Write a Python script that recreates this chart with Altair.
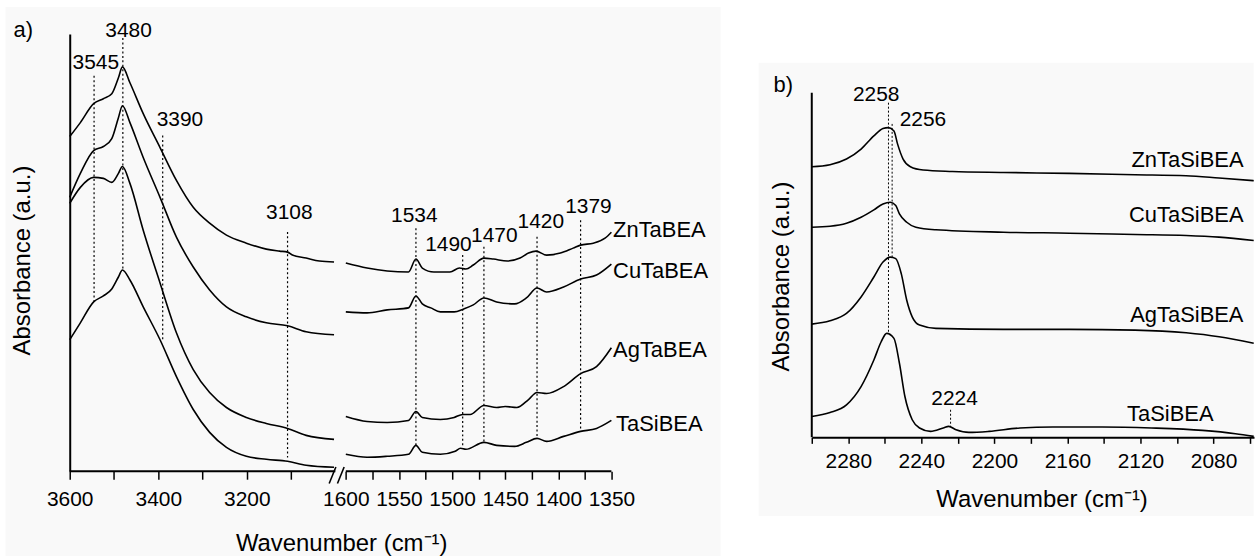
import altair as alt
import pandas as pd

FONT = "Liberation Sans"
BG = "#f9f9f9"

# ---------------- Panel a : data (wavenumber cm-1, absorbance a.u.) ----------------
a_samples = ["ZnTaBEA", "CuTaBEA", "AgTaBEA", "TaSiBEA"]

zn_oh_wn = [3600, 3576, 3546, 3524, 3505, 3490, 3481, 3464, 3434, 3396, 3359, 3321, 3284, 3246,
            3201, 3156, 3126, 3108, 3097, 3066, 3036, 3003]
zn_oh_abs = [3.36, 3.50, 3.69, 3.74, 3.79, 3.95, 4.06, 3.90, 3.59, 3.25, 2.92, 2.65, 2.49, 2.37,
             2.29, 2.23, 2.21, 2.20, 2.17, 2.14, 2.11, 2.10]

oh_wn = [3600, 3576, 3546, 3524, 3505, 3490, 3481, 3464, 3434, 3396, 3359, 3321, 3284, 3246,
         3201, 3156, 3108, 3066, 3003]
cu_oh_abs = [2.75, 2.99, 3.22, 3.26, 3.34, 3.55, 3.67, 3.50, 3.15, 2.75, 2.35, 2.05, 1.82, 1.65,
             1.55, 1.49, 1.46, 1.40, 1.37]
ag_oh_abs = [2.69, 2.85, 2.95, 2.94, 2.90, 2.99, 3.06, 2.89, 2.42, 1.89, 1.39, 1.02, 0.79, 0.64,
             0.54, 0.48, 0.43, 0.36, 0.32]
tasi_oh_abs = [1.32, 1.49, 1.70, 1.76, 1.83, 1.95, 2.02, 1.92, 1.65, 1.32, 0.95, 0.62, 0.39, 0.24,
               0.15, 0.12, 0.10, 0.06, 0.04]

zn_py_wn = [1600, 1580, 1561, 1541, 1534, 1528, 1517, 1502, 1493, 1487, 1480, 1470, 1461, 1448,
            1436, 1428, 1421, 1411, 1398, 1386, 1379, 1367, 1356, 1350]
zn_py_abs = [2.09, 2.04, 2.01, 2.00, 2.13, 2.04, 2.00, 2.00, 2.04, 2.03, 2.07, 2.14, 2.13, 2.11,
             2.14, 2.19, 2.21, 2.17, 2.19, 2.24, 2.27, 2.29, 2.34, 2.40]
cu_py_wn = [1600, 1580, 1561, 1541, 1534, 1528, 1520, 1511, 1498, 1489, 1480, 1470, 1458, 1441,
            1430, 1420, 1411, 1395, 1379, 1364, 1350]
cu_py_abs = [1.60, 1.59, 1.62, 1.64, 1.76, 1.68, 1.64, 1.60, 1.60, 1.63, 1.67, 1.74, 1.70, 1.68,
             1.74, 1.84, 1.80, 1.85, 1.93, 1.97, 2.08]
ag_py_wn = [1600, 1580, 1561, 1541, 1534, 1528, 1511, 1498, 1490, 1483, 1470, 1458, 1450, 1439,
            1428, 1420, 1411, 1395, 1379, 1364, 1350]
ag_py_abs = [0.55, 0.50, 0.49, 0.51, 0.60, 0.54, 0.52, 0.54, 0.57, 0.57, 0.66, 0.64, 0.65, 0.64,
             0.72, 0.79, 0.78, 0.85, 0.98, 1.05, 1.24]
tasi_py_wn = [1600, 1580, 1561, 1541, 1534, 1528, 1511, 1497, 1492, 1487, 1470, 1458, 1441, 1430,
              1420, 1411, 1395, 1379, 1364, 1350]
tasi_py_abs = [0.17, 0.14, 0.15, 0.17, 0.26, 0.19, 0.17, 0.20, 0.23, 0.22, 0.29, 0.26, 0.25, 0.29,
               0.33, 0.30, 0.35, 0.40, 0.43, 0.51]

# marked bands (panel a)
a_peaks = [3545, 3480, 3390, 3108, 1534, 1490, 1470, 1420, 1379]
a_peak_top = [3.97, 4.35, 3.37, 2.403, 2.44, 2.17, 2.253, 2.353, 2.52]
a_peak_bottom = [1.703, 2.02, 1.32, 0.137, 0.253, 0.24, 0.287, 0.33, 0.42]
a_label_wn = [3541, 3467, 3351, 3104, 1535.5, 1503.4, 1460.2, 1416.4, 1371.6]
a_label_y = [4.037, 4.36, 3.47, 2.537, 2.503, 2.213, 2.303, 2.437, 2.597]
a_name_wn = [1348.4, 1348.4, 1348.4, 1345.6]
a_name_y = [2.353, 1.937, 1.147, 0.403]

# axis ticks (panel a)
a_ticks = [3600, 3500, 3400, 3300, 3200, 3100,
           1600, 1575, 1550, 1525, 1500, 1475, 1450, 1425, 1400, 1375, 1350]
a_tick_labels = [3600, 3400, 3200, 1600, 1550, 1500, 1450, 1400, 1350]
a_segments_from = [3600, 1600]
a_segments_to = [3000, 1350]

# ---------------- Panel b : data ----------------
b_samples = ["ZnTaSiBEA", "CuTaSiBEA", "AgTaSiBEA", "TaSiBEA"]
zn_b_wn = [2300, 2290, 2281, 2273, 2266, 2261, 2258, 2255, 2253, 2250, 2246, 2239, 2223, 2195,
           2159, 2123, 2095, 2077, 2058]
zn_b_abs = [2.717, 2.737, 2.794, 2.894, 3.027, 3.10, 3.11, 3.077, 2.944, 2.794, 2.717, 2.684,
            2.67, 2.66, 2.65, 2.637, 2.627, 2.604, 2.577]
cu_b_wn = [2300, 2290, 2281, 2273, 2266, 2261, 2257, 2254, 2252, 2248, 2243, 2232, 2195, 2159,
           2123, 2095, 2077, 2058]
cu_b_abs = [2.11, 2.12, 2.15, 2.21, 2.284, 2.344, 2.36, 2.327, 2.244, 2.16, 2.11, 2.084, 2.06,
            2.05, 2.037, 2.027, 2.01, 1.977]
ag_b_wn = [2300, 2290, 2281, 2273, 2266, 2261, 2257, 2254, 2251, 2248, 2245, 2241, 2232, 2195,
           2159, 2123, 2095, 2077, 2058]
ag_b_abs = [1.137, 1.17, 1.244, 1.41, 1.61, 1.76, 1.81, 1.794, 1.644, 1.377, 1.21, 1.127, 1.094,
            1.084, 1.084, 1.077, 1.05, 1.01, 0.944]
tasi_b_wn = [2300, 2290, 2281, 2273, 2266, 2262, 2259, 2255, 2252, 2249, 2245, 2241, 2235, 2228,
             2225, 2221, 2214, 2203, 2186, 2168, 2141, 2114, 2086, 2068, 2058]
tasi_b_abs = [0.21, 0.25, 0.327, 0.51, 0.777, 0.96, 1.044, 0.994, 0.744, 0.41, 0.177, 0.094,
              0.06, 0.094, 0.11, 0.077, 0.05, 0.06, 0.094, 0.104, 0.104, 0.094, 0.07, 0.037, 0.01]

b_peaks = [2258, 2256, 2224]
b_peak_top = [3.36, 3.147, 0.277]
b_peak_bottom = [1.044, 1.81, 0.11]
b_label_wn = [2264.7, 2239.1, 2221.8]
b_label_y = [3.377, 3.127, 0.327]
b_name_wn = [2063.6, 2063.6, 2063.6, 2080]
b_name_y = [2.717, 2.16, 1.16, 0.16]
b_ticks = [2300, 2280, 2260, 2240, 2220, 2200, 2180, 2160, 2140, 2120, 2100, 2080, 2060]


# ---------------- helpers ----------------
def pos_expr(f):
    return (f"(datum.{f} > 2000 ? (3600 - datum.{f}) * 0.4445 "
            f": 277.2 + (1600 - datum.{f}) * 1.0665)")


def pos(w):
    return (3600 - w) * 0.4445 if w > 2000 else 277.2 + (1600 - w) * 1.0665


rows = []
for s, reg, wns, vals in [
    ("ZnTaBEA", "OH", zn_oh_wn, zn_oh_abs), ("CuTaBEA", "OH", oh_wn, cu_oh_abs),
    ("AgTaBEA", "OH", oh_wn, ag_oh_abs), ("TaSiBEA", "OH", oh_wn, tasi_oh_abs),
    ("ZnTaBEA", "Py", zn_py_wn, zn_py_abs), ("CuTaBEA", "Py", cu_py_wn, cu_py_abs),
    ("AgTaBEA", "Py", ag_py_wn, ag_py_abs), ("TaSiBEA", "Py", tasi_py_wn, tasi_py_abs)]:
    for w, v in zip(wns, vals):
        rows.append({"key": s + "-" + reg, "wn": w, "y": v})
df_a = pd.DataFrame(rows)

rows = []
for s, wns, vals in [("ZnTaSiBEA", zn_b_wn, zn_b_abs), ("CuTaSiBEA", cu_b_wn, cu_b_abs),
                     ("AgTaSiBEA", ag_b_wn, ag_b_abs), ("TaSiBEA", tasi_b_wn, tasi_b_abs)]:
    for w, v in zip(wns, vals):
        rows.append({"key": s, "wn": w, "y": v})
df_b = pd.DataFrame(rows)

# ---------------- Panel a ----------------
W_A, H_A = 544, 439
W_EXPR = ("(datum.value < 272 ? round(3600 - datum.value / 0.4445) "
          ": round(1600 - (datum.value - 277.2) / 1.0665))")
label_list = "[" + ",".join(str(v) for v in a_tick_labels) + "]"
a_label_expr = f"indexof({label_list}, {W_EXPR}) >= 0 ? '' + {W_EXPR} : ''"

xa = alt.X("p:Q", scale=alt.Scale(domain=[0, W_A], nice=False, zero=False),
           axis=alt.Axis(values=[pos(t) for t in a_ticks], labelExpr=a_label_expr, zindex=2,
                         domain=False, grid=False, tickSize=8, tickWidth=1.5, tickColor="black",
                         labelFont=FONT, labelFontSize=21, labelColor="black", labelPadding=9,
                         labelFlush=False, labelOverlap=False,
                         title="Wavenumber (cm⁻¹)", titleFont=FONT, titleFontSize=24,
                         titleFontWeight="normal", titleColor="black", titleX=272.5, titleY=79.7,
                         titleBaseline="alphabetic", titleAlign="center"))
ya = alt.Y("y:Q", scale=alt.Scale(domain=[0, 4.39], nice=False, zero=False),
           axis=alt.Axis(domain=True, domainColor="black", domainWidth=2, ticks=False, zindex=2,
                         labels=False, grid=False, title="Absorbance (a.u.)", titleFont=FONT,
                         titleFontSize=24, titleFontWeight="normal", titleColor="black",
                         titleAngle=270, titleX=-47, titleY=227, titleBaseline="middle",
                         titleAlign="center"))

one = pd.DataFrame({"k": [0]})
bg_a = alt.Chart(one).mark_rect(color=BG).encode(
    x=alt.value(-64.5), x2=alt.value(653.5), y=alt.value(-27), y2=alt.value(524))

peaks_a = alt.Chart(pd.DataFrame({"wn": a_peaks, "y": a_peak_top, "y2": a_peak_bottom})
                    ).transform_calculate(p=pos_expr("wn")).mark_rule(
    color="black", strokeWidth=1.2, strokeDash=[2, 2.5]).encode(x=xa, y=ya, y2="y2:Q")

curves_a = alt.Chart(df_a).transform_calculate(p=pos_expr("wn")).mark_line(
    color="black", strokeWidth=1.6, interpolate="monotone").encode(x=xa, y=ya, detail="key:N")

axis_line_a = alt.Chart(pd.DataFrame({"wn": a_segments_from, "wn2": a_segments_to, "y": [0, 0]})
                        ).transform_calculate(p=pos_expr("wn"), p2=pos_expr("wn2")).mark_rule(
    color="black", strokeWidth=2).encode(x=xa, x2="p2:Q", y=ya)

# axis-break marks
brk = pd.DataFrame({"p": [260.5, 268.8], "p2": [267.2, 275.5], "y": [-0.123, -0.123],
                    "y2": [0.043, 0.043]})
break_a = alt.Chart(brk).mark_rule(color="black", strokeWidth=1.6).encode(
    x=xa, x2="p2:Q", y=ya, y2="y2:Q")

labels_a = alt.Chart(pd.DataFrame({"wn": a_label_wn, "y": a_label_y,
                                   "t": [str(v) for v in a_peaks]})
                     ).transform_calculate(p=pos_expr("wn")).mark_text(
    font=FONT, fontSize=21, align="center", baseline="alphabetic", color="black").encode(
    x=xa, y=ya, text="t:N")

names_a = alt.Chart(pd.DataFrame({"wn": a_name_wn, "y": a_name_y, "t": a_samples})
                    ).transform_calculate(p=pos_expr("wn")).mark_text(
    font=FONT, fontSize=22, align="left", baseline="alphabetic", color="black").encode(
    x=xa, y=ya, text="t:N")

tag_a = alt.Chart(one).mark_text(text="a)", font=FONT, fontSize=22, align="left",
                                 baseline="alphabetic", color="black").encode(
    x=alt.value(-56.5), y=alt.value(3))

panel_a = alt.layer(bg_a, peaks_a, curves_a, axis_line_a, break_a, labels_a, names_a, tag_a
                    ).properties(width=W_A, height=H_A)

# ---------------- Panel b ----------------
W_B, H_B = 444, 405
xb = alt.X("wn:Q", scale=alt.Scale(domain=[2300 - W_B / 1.8335, 2300], reverse=True,
                                   nice=False, zero=False),
           axis=alt.Axis(values=b_ticks, format="d", zindex=2,
                         labelExpr="datum.value % 40 == 0 ? datum.label : ''",
                         domain=True, domainColor="black", domainWidth=2, grid=False,
                         tickSize=6, tickWidth=1.5, tickColor="black",
                         labelFont=FONT, labelFontSize=21, labelColor="black", labelPadding=7,
                         labelFlush=False, labelOverlap=False,
                         title="Wavenumber (cm⁻¹)", titleFont=FONT, titleFontSize=24,
                         titleFontWeight="normal", titleColor="black", titleX=230.7, titleY=69,
                         titleBaseline="alphabetic", titleAlign="center"))
yb = alt.Y("y:Q", scale=alt.Scale(domain=[0, 4.05], nice=False, zero=False),
           axis=alt.Axis(domain=False, ticks=False, labels=False, grid=False, zindex=2,
                         title="Absorbance (a.u.)", titleFont=FONT, titleFontSize=24,
                         titleFontWeight="normal", titleColor="black", titleAngle=270,
                         titleX=-30.8, titleY=243, titleBaseline="middle", titleAlign="center"))

bg_b = alt.Chart(one).mark_rect(color=BG).encode(
    x=alt.value(-53.3), x2=alt.value(443.7), y=alt.value(29), y2=alt.value(484))

yline_b = alt.Chart(pd.DataFrame({"wn": [2300], "y": [3.46], "y2": [0]})).mark_rule(
    color="black", strokeWidth=2).encode(x=xb, y=yb, y2="y2:Q")

peaks_b = alt.Chart(pd.DataFrame({"wn": b_peaks, "y": b_peak_top, "y2": b_peak_bottom})
                    ).mark_rule(color="black", strokeWidth=1.0, strokeDash=[2, 2]).encode(
    x=xb, y=yb, y2="y2:Q")

curves_b = alt.Chart(df_b).mark_line(color="black", strokeWidth=1.6,
                                     interpolate="monotone").encode(x=xb, y=yb, detail="key:N")

labels_b = alt.Chart(pd.DataFrame({"wn": b_label_wn, "y": b_label_y,
                                   "t": [str(v) for v in b_peaks]})).mark_text(
    font=FONT, fontSize=21, align="center", baseline="alphabetic", color="black").encode(
    x=xb, y=yb, text="t:N")

names_b = alt.Chart(pd.DataFrame({"wn": b_name_wn, "y": b_name_y, "t": b_samples})).mark_text(
    font=FONT, fontSize=22, align="right", baseline="alphabetic", color="black").encode(
    x=xb, y=yb, text="t:N")

tag_b = alt.Chart(one).mark_text(text="b)", font=FONT, fontSize=22, align="left",
                                 baseline="alphabetic", color="black").encode(
    x=alt.value(-38.3), y=alt.value(58.7))

panel_b = alt.layer(bg_b, yline_b, peaks_b, curves_b, labels_b, names_b, tag_b
                    ).properties(width=W_B, height=H_B)

chart = alt.hconcat(panel_a, panel_b, spacing=37).properties(
    padding={"left": 5, "top": 6, "right": 0, "bottom": 0}, background="white"
).configure_view(stroke=None)

chart.save("out.html", embed_options={"renderer": "svg", "actions": False})
